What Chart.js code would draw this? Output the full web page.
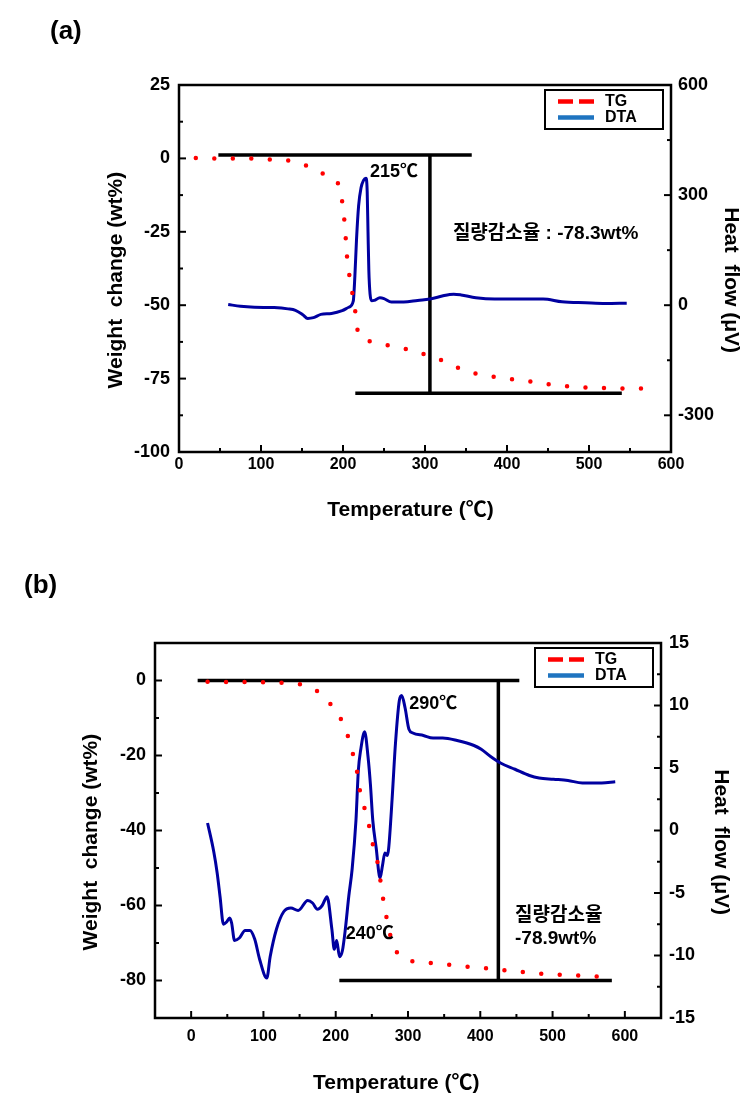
<!DOCTYPE html>
<html>
<head>
<meta charset="utf-8">
<script src="https://cdn.jsdelivr.net/npm/chart.js@4.4.0/dist/chart.umd.min.js"></script>
<style>
  body { margin: 0; background: #fff; }
  #wrap { position: relative; width: 753px; height: 1111px; }
  canvas { position: absolute; left: 0; }
  .panel { position: absolute; font: bold 26px 'Liberation Sans', Arial, sans-serif; line-height: 1; color: #000; }
</style>
</head>
<body>
<div id="wrap">
  <canvas id="chartA" width="753" height="555" style="top:0"></canvas>
  <canvas id="chartB" width="753" height="556" style="top:555px"></canvas>
  <div class="panel" style="left:50px;top:17px">(a)</div>
  <div class="panel" style="left:24px;top:571px">(b)</div>
</div>
<script>
const FONT = "'Liberation Sans', Arial, 'Noto Sans CJK KR', sans-serif";
Chart.defaults.font.family = FONT;
Chart.defaults.color = '#000';

// ---- (a) ----
const tgTempA = [20.5, 40, 62, 84, 107, 130, 151, 170, 183, 197, 200, 202.5, 204, 206, 210, 213, 217, 218, 222, 238, 255, 273, 291.5, 311, 324, 343, 363.5, 384, 406, 427, 449, 471, 486, 507.5, 530, 552.6, 576.6];
const tgWeightA = [0.1, 0, 0, 0, -0.3, -0.6, -2, -4.4, -6.3, -10.8, -17.3, -23.6, -30.2, -36.7, -43, -49.4, -55.7, -59.3, -61, -62.7, -63.7, -64.7, -66, -68, -69.1, -71.6, -73.4, -74.4, -75.2, -75.9, -76.9, -77.5, -78, -78.1, -78.3, -78.4, -78.4];
const dtaTempA = [60, 75, 92, 116, 133, 142, 151, 157, 164, 173, 186, 199, 207, 212.5, 214.5, 216.5, 219, 222, 225, 228, 229.5, 230.5, 231.5, 233, 235, 238, 245, 250, 259, 274, 291, 309, 321, 335, 344, 362, 385, 414, 444, 467, 496, 520, 546];
const dtaHeatA = [2, -3, -5.6, -6.6, -10, -14, -26, -36, -34, -25, -22.5, -15, -5.6, 11, 80, 180, 270, 320, 340, 346, 310, 200, 96, 30, 12, 13, 20, 18, 8.5, 8.5, 13, 18, 25, 30, 28, 20.6, 17, 17, 17, 9.4, 6.6, 4.7, 5.6];
// guide lines: [x1, y1, x2, y2] in temperature / wt%
const guideA = [[48, 1.2, 357, 1.2], [306, 1.2, 306, -80], [215, -80, 540, -80]];
const xTicksA = [0, 100, 200, 300, 400, 500, 600];
const xMinorA = [50, 150, 250, 350, 450, 550];
const leftTicksA = [-100, -75, -50, -25, 0, 25];
const leftMinorA = [-87.5, -62.5, -37.5, -12.5, 12.5];
const rightTicksA = [-300, 0, 300, 600];
const rightMinorA = [-150, 150, 450];
const notesA = [
  { x: 233, y: -4.6, text: '215℃', size: 18 },
  { x: 334, y: -25.6, text: '질량감소율 : -78.3wt%', size: 19 }
];

// ---- (b) ----
const tgTempB = [22.7, 48, 74.7, 100, 126, 152.7, 174.7, 192, 203, 214.7, 222.7, 229.3, 233.3, 240, 246.7, 252, 258.7, 262.7, 266.7, 272, 278, 292.7, 318, 348, 374.7, 399.3, 425.3, 451.3, 476, 502.7, 520, 545.3, 571.3];
const tgWeightB = [-0.3, -0.4, -0.4, -0.5, -0.6, -1.1, -2.9, -6.1, -8.8, -13.6, -18.8, -24.1, -29.2, -34.2, -39.2, -44.3, -49.3, -54.5, -59.6, -64.7, -69.8, -73.9, -75.1, -75.6, -76.2, -76.6, -77.1, -77.6, -78.1, -78.4, -78.5, -78.8, -79];
const dtaTempB = [22.7, 31.3, 36, 40, 44.7, 49.3, 53.3, 56, 60, 66.7, 74.7, 81.3, 88, 94.7, 104.7, 109.3, 118, 128, 138, 148, 161.3, 168, 174.7, 181.3, 188, 194.7, 198, 201.3, 205.3, 209.3, 213.3, 218, 222.7, 228, 231.3, 234.7, 240, 244.7, 248, 251.3, 256, 261.3, 264.7, 268, 271.3, 273.3, 278, 282.7, 288, 291.3, 296, 301.3, 306.7, 321.3, 334.7, 348, 368, 391.3, 401.3, 414.7, 428, 448, 468, 481.3, 501.3, 521.3, 541.3, 568, 586.7];
const dtaHeatB = [0.6, -1.7, -3.4, -5.3, -7.5, -7.3, -7, -7.4, -8.8, -8.6, -8, -8, -8.7, -10.3, -11.8, -10.1, -7.9, -6.5, -6.2, -6.4, -5.6, -5.8, -6.3, -6, -5.3, -7.9, -9.5, -8.8, -10.1, -9.6, -7.9, -5.3, -3.1, 0.8, 4.8, 6.5, 7.9, 5.9, 3.7, 0.8, -1.4, -3.8, -2.8, -1.8, -2, -1.4, 2.5, 7, 10.4, 10.8, 9.8, 8.1, 7.8, 7.6, 7.4, 7.4, 7.2, 6.8, 6.5, 5.9, 5.4, 4.9, 4.4, 4.2, 4.1, 4, 3.8, 3.8, 3.9];
const guideB = [[9, 0, 454, 0], [425, 0, 425, -80], [205, -80, 582, -80]];
const xTicksB = [0, 100, 200, 300, 400, 500, 600];
const xMinorB = [-50, 50, 150, 250, 350, 450, 550, 650];
const leftTicksB = [-80, -60, -40, -20, 0];
const leftMinorB = [-70, -50, -30, -10];
const rightTicksB = [-15, -10, -5, 0, 5, 10, 15];
const rightMinorB = [-12.5, -7.5, -2.5, 2.5, 7.5, 12.5];
const notesB = [
  { x: 301.7, y: -6.3, text: '290℃', size: 18 },
  { x: 214, y: -67.5, text: '240℃', size: 18 },
  { x: 448, y: -62.8, text: '질량감소율', size: 19 },
  { x: 448, y: -69, text: '-78.9wt%', size: 19 }
];

const pts = (xs, ys) => xs.map((x, i) => ({ x: x, y: ys[i] }));

function setTicks(major, minor) {
  return scale => {
    scale.ticks = major.map(v => ({ value: v }))
      .concat(minor.map(v => ({ value: v, minor: true })))
      .sort((a, b) => a.value - b.value);
  };
}
const tickLabel = (value, i, ticks) => ticks[i].minor ? '' : String(value);

// frame + inward tick marks
const frameTicks = {
  id: 'frameTicks',
  afterDatasetsDraw(chart) {
    const { ctx, chartArea: a } = chart;
    ctx.save();
    ctx.strokeStyle = '#000';
    ctx.lineWidth = 2;
    Object.values(chart.scales).forEach(s => {
      s.ticks.forEach(t => {
        const len = t.minor ? 4 : 7;
        const p = s.getPixelForValue(t.value);
        ctx.beginPath();
        if (s.axis === 'x') { ctx.moveTo(p, a.bottom); ctx.lineTo(p, a.bottom - len); }
        else if (s.position === 'left') { ctx.moveTo(a.left, p); ctx.lineTo(a.left + len, p); }
        else { ctx.moveTo(a.right, p); ctx.lineTo(a.right - len, p); }
        ctx.stroke();
      });
    });
    ctx.lineWidth = 2.5;
    ctx.strokeRect(a.left, a.top, a.width, a.height);
    ctx.restore();
  }
};

// boxed legend in top right corner
const boxLegend = {
  id: 'boxLegend',
  afterDraw(chart) {
    const { ctx, chartArea: a } = chart;
    const w = 118, h = 39;
    const left = a.right - 8 - w, top = a.top + 5;
    ctx.save();
    ctx.lineWidth = 2;
    ctx.strokeStyle = '#000';
    ctx.strokeRect(left, top, w, h);
    const items = chart.data.datasets.filter(d => d.legendColor);
    items.forEach((d, i) => {
      const y = top + 11.5 + i * 16;
      ctx.beginPath();
      ctx.lineWidth = 4.5;
      ctx.strokeStyle = d.legendColor;
      ctx.setLineDash(d.legendDash || []);
      ctx.moveTo(left + 13, y);
      ctx.lineTo(left + 49, y);
      ctx.stroke();
      ctx.setLineDash([]);
      ctx.fillStyle = '#000';
      ctx.font = 'bold 16px ' + FONT;
      ctx.textBaseline = 'middle';
      ctx.fillText(d.label, left + 60, y);
    });
    ctx.restore();
  }
};

// text notes placed in data units
const notes = {
  id: 'notes',
  afterDraw(chart, args, opts) {
    const { ctx, scales } = chart;
    ctx.save();
    ctx.fillStyle = '#000';
    ctx.textBaseline = 'middle';
    (opts.items || []).forEach(n => {
      ctx.font = 'bold ' + n.size + 'px ' + FONT;
      ctx.fillText(n.text, scales.x.getPixelForValue(n.x), scales.y.getPixelForValue(n.y));
    });
    ctx.restore();
  }
};

function buildChart(id, s) {
  const datasets = [
    {
      label: 'TG', data: pts(s.tgT, s.tgW), yAxisID: 'y',
      borderColor: '#ff0000', borderWidth: 4.5, borderDash: [0, 18.5], borderCapStyle: 'round',
      pointRadius: 0, cubicInterpolationMode: 'monotone',
      legendColor: '#ff0000', legendDash: [15, 6]
    },
    {
      label: 'DTA', data: pts(s.dtaT, s.dtaH), yAxisID: 'y2',
      borderColor: '#0000a0', borderWidth: 3, pointRadius: 0, cubicInterpolationMode: 'monotone',
      legendColor: '#1f74c0'
    }
  ];
  s.guides.forEach(g => datasets.push({
    data: [{ x: g[0], y: g[1] }, { x: g[2], y: g[3] }], yAxisID: 'y',
    borderColor: '#000', borderWidth: 3.5, pointRadius: 0, borderCapStyle: 'butt'
  }));

  const tickFont = { size: 18, weight: 'bold' };
  const titleFont = { size: 21, weight: 'bold' };

  return new Chart(document.getElementById(id), {
    type: 'line',
    data: { datasets: datasets },
    options: {
      responsive: false,
      animation: false,
      events: [],
      devicePixelRatio: 1,
      layout: { padding: { top: s.top, left: 0, right: 0, bottom: 0 } },
      plugins: { legend: { display: false }, tooltip: { enabled: false }, notes: { items: s.notes } },
      scales: {
        x: {
          type: 'linear', min: s.xMin, max: s.xMax,
          afterFit: sc => { sc.height = s.xH; },
          afterBuildTicks: setTicks(s.xTicks, s.xMinor),
          grid: { display: false, drawTicks: false },
          border: { display: false },
          ticks: { autoSkip: false, maxRotation: 0, padding: s.xPad, font: { size: 16, weight: 'bold' }, callback: tickLabel },
          title: { display: true, text: 'Temperature (℃)' + s.xTitleTail, font: titleFont, padding: { top: 0, bottom: s.xTitlePad } }
        },
        y: {
          type: 'linear', position: 'left', min: s.yMin, max: s.yMax,
          afterFit: sc => { sc.width = s.yW; },
          afterBuildTicks: setTicks(s.yTicks, s.yMinor),
          grid: { display: false, drawTicks: false },
          border: { display: false },
          ticks: { autoSkip: false, padding: s.yPad, font: tickFont, callback: tickLabel },
          title: { display: true, text: 'Weight  change (wt%)    ', font: titleFont, padding: { top: s.yTitlePad, bottom: 0 } }
        },
        y2: {
          type: 'linear', position: 'right', min: s.y2Min, max: s.y2Max,
          afterFit: sc => { sc.width = s.y2W; },
          afterBuildTicks: setTicks(s.y2Ticks, s.y2Minor),
          grid: { display: false, drawTicks: false },
          border: { display: false },
          ticks: { autoSkip: false, padding: s.y2Pad, font: tickFont, callback: tickLabel },
          title: { display: true, text: '    Heat  flow (μV)', font: titleFont, padding: { top: s.y2TitlePad, bottom: 0 } }
        }
      }
    },
    plugins: [frameTicks, boxLegend, notes]
  });
}

buildChart('chartA', {
  tgT: tgTempA, tgW: tgWeightA, dtaT: dtaTempA, dtaH: dtaHeatA, guides: guideA, notes: notesA,
  top: 85, xH: 103, yW: 179, y2W: 82,
  xMin: 0, xMax: 600, xTicks: xTicksA, xMinor: xMinorA, xPad: 3, xTitlePad: 32, xTitleTail: '     ',
  yMin: -100, yMax: 25, yTicks: leftTicksA, yMinor: leftMinorA, yPad: 9, yTitlePad: 104,
  y2Min: -400, y2Max: 600, y2Ticks: rightTicksA, y2Minor: rightMinorA, y2Pad: 7, y2TitlePad: 10
});

buildChart('chartB', {
  tgT: tgTempB, tgW: tgWeightB, dtaT: dtaTempB, dtaH: dtaHeatB, guides: guideB, notes: notesB,
  top: 88, xH: 93, yW: 155, y2W: 92,
  xMin: -50, xMax: 650, xTicks: xTicksB, xMinor: xMinorB, xPad: 9, xTitlePad: 15, xTitleTail: '    ',
  yMin: -90, yMax: 10, yTicks: leftTicksB, yMinor: leftMinorB, yPad: 9, yTitlePad: 79,
  y2Min: -15, y2Max: 15, y2Ticks: rightTicksB, y2Minor: rightMinorB, y2Pad: 8, y2TitlePad: 20
});
</script>
</body>
</html>
